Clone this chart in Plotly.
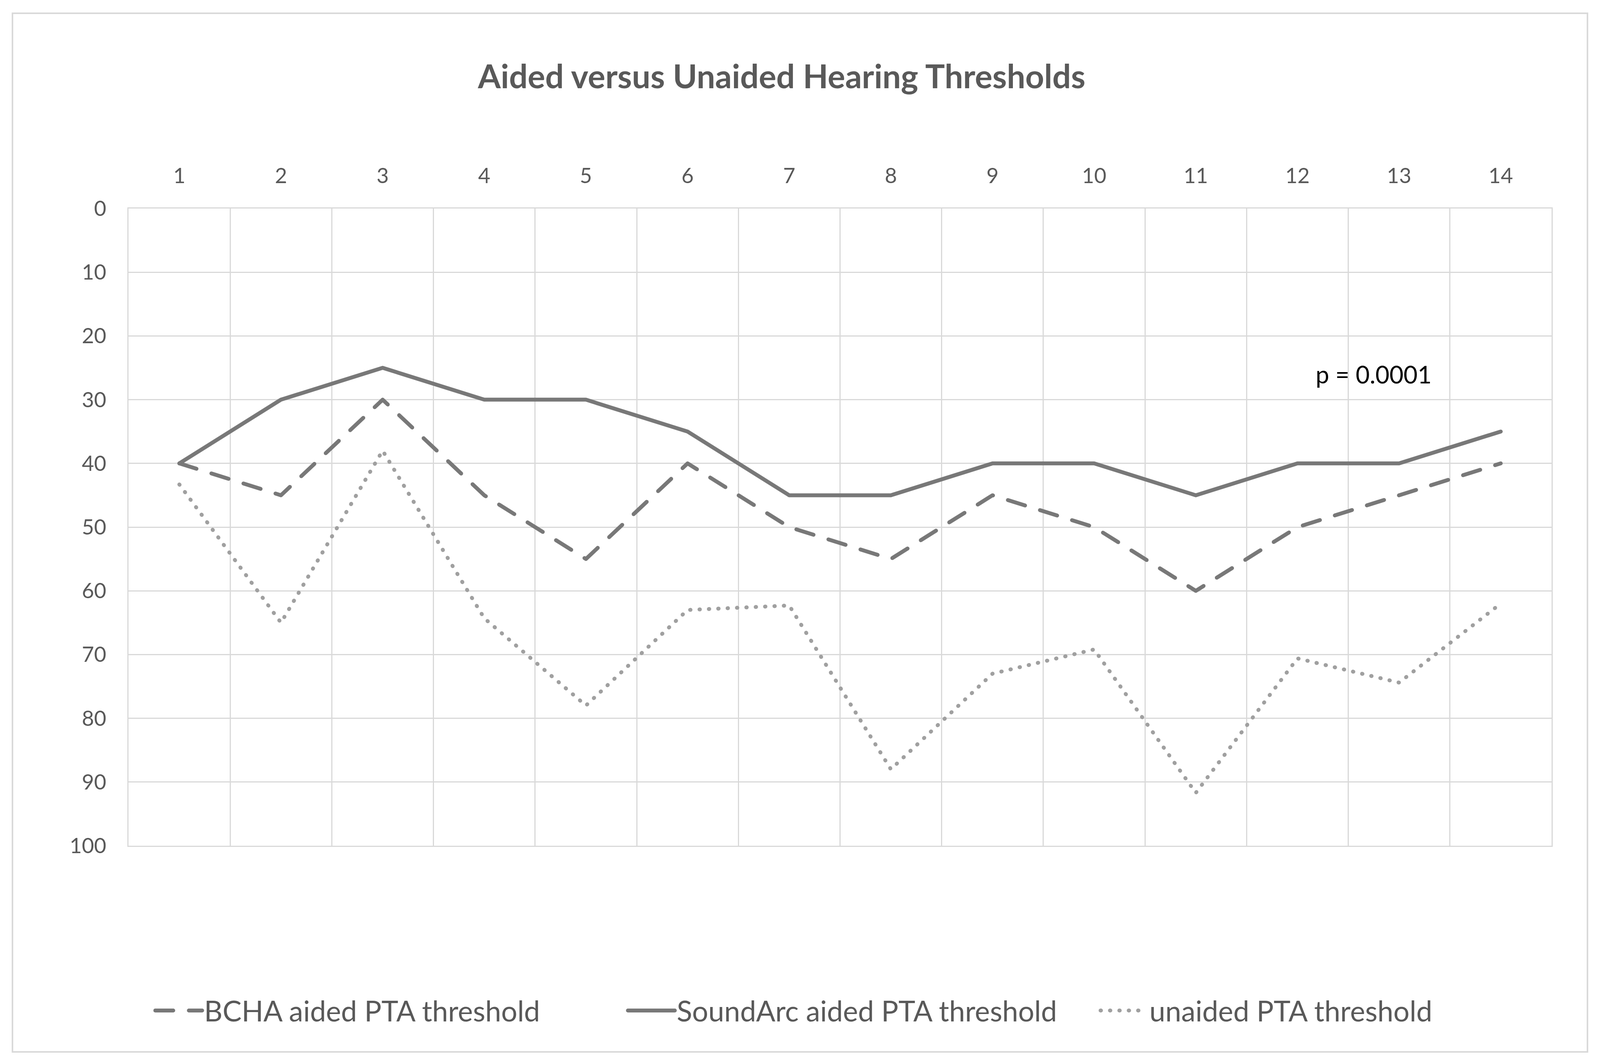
import plotly.graph_objects as go

patients = list(range(1, 14 + 1))
tick_labels = [str(p) for p in patients]
bcha_aided = [40, 45, 30, 45, 55, 40, 50, 55, 45, 50, 60, 50, 45, 40]
soundarc_aided = [40, 30, 25, 30, 30, 35, 45, 45, 40, 40, 45, 40, 40, 35]
unaided = [43.3, 65, 38, 64.3, 78, 63, 62.3, 88, 73, 69.2, 91.7, 70.6, 74.4, 62]
y_ticks = list(range(0, 101, 10))

# The browser viewport is 4096 px wide; reference layout measured at 4411 px width.
REF_W = 4411
W, H = 4096, 2725
SX = W / REF_W

def px(x_ref):
    return x_ref * SX

L = px(354)
R = W - px(4278)
T, B = 534, 559
pw, ph = W - L - R, H - T - B

FONT = "Lato"
TXT = "#595959"
GRID = "#d9d9d9"
DARK = "#787878"
LIGHT = "#a0a0a0"

fig = go.Figure()
fig.add_trace(go.Scatter(x=patients, y=bcha_aided, mode="lines", name="BCHA aided PTA threshold",
                         line=dict(color=DARK, width=10, dash="46px,40px")))
fig.add_trace(go.Scatter(x=patients, y=soundarc_aided, mode="lines", name="SoundArc aided PTA threshold",
                         line=dict(color=DARK, width=10)))
fig.add_trace(go.Scatter(x=patients, y=unaided, mode="lines", name="unaided PTA threshold",
                         line=dict(color=LIGHT, width=10, dash="1px,23px")))

fig.add_annotation(x=12.75, y=26, xref="x", yref="y", text="p = 0.0001", showarrow=False,
                   font=dict(family=FONT, size=62, color="#000000"))

# outer chart border
fig.add_shape(type="rect", xref="paper", yref="paper",
              x0=(px(34) - L) / pw, x1=(px(4377) - L) / pw,
              y0=(H - B - 2694) / ph, y1=(H - B - 34) / ph,
              line=dict(color="#d9d9d9", width=4), layer="below")

fig.update_layout(
    width=W, height=H,
    margin=dict(l=L, r=R, t=T, b=B, pad=0),
    paper_bgcolor="white", plot_bgcolor="white",
    title=dict(text="<b>Aided versus Unaided Hearing Thresholds</b>",
               x=px(2155) / W, xanchor="center", xref="container",
               y=1 - 197 / H, yanchor="middle", yref="container",
               font=dict(family=FONT, size=84, color=TXT)),
    font=dict(family=FONT, color=TXT),
    legend=dict(orientation="h", x=(px(403) + 18 - L) / pw, xanchor="left",
                y=(H - B - 2588) / ph, yanchor="middle",
                itemwidth=120, entrywidth=1075, entrywidthmode="pixels",
                font=dict(family=FONT, size=73, color=TXT),
                bgcolor="rgba(0,0,0,0)"),
    showlegend=True,
)
fig.update_xaxes(
    range=[0.5, 14.5], side="top", tickmode="array", tickvals=patients, ticktext=tick_labels,
    showgrid=False, ticks="", ticklabelstandoff=40,
    tickfont=dict(family=FONT, size=54, color=TXT),
    showline=True, mirror=True, linecolor=GRID, linewidth=3, zeroline=False,
    minor=dict(tickvals=[i + 0.5 for i in range(0, 15)], showgrid=True, gridcolor=GRID, gridwidth=3, ticks=""),
)
fig.update_yaxes(
    range=[100, 0], tickmode="array", tickvals=y_ticks, ticktext=[str(v) for v in y_ticks],
    showgrid=True, gridcolor=GRID, gridwidth=3, ticks="", ticklabelstandoff=43,
    tickfont=dict(family=FONT, size=54, color=TXT),
    showline=True, mirror=True, linecolor=GRID, linewidth=3, zeroline=False,
)

post = """
document.body.style.margin = '0';
var st = document.createElement('style');
st.textContent = 'path.js-line { stroke-linecap: round; stroke-linejoin: round; }';
document.head.appendChild(st);
"""
fig.write_html("out.html", post_script=post, config={"displayModeBar": False})
